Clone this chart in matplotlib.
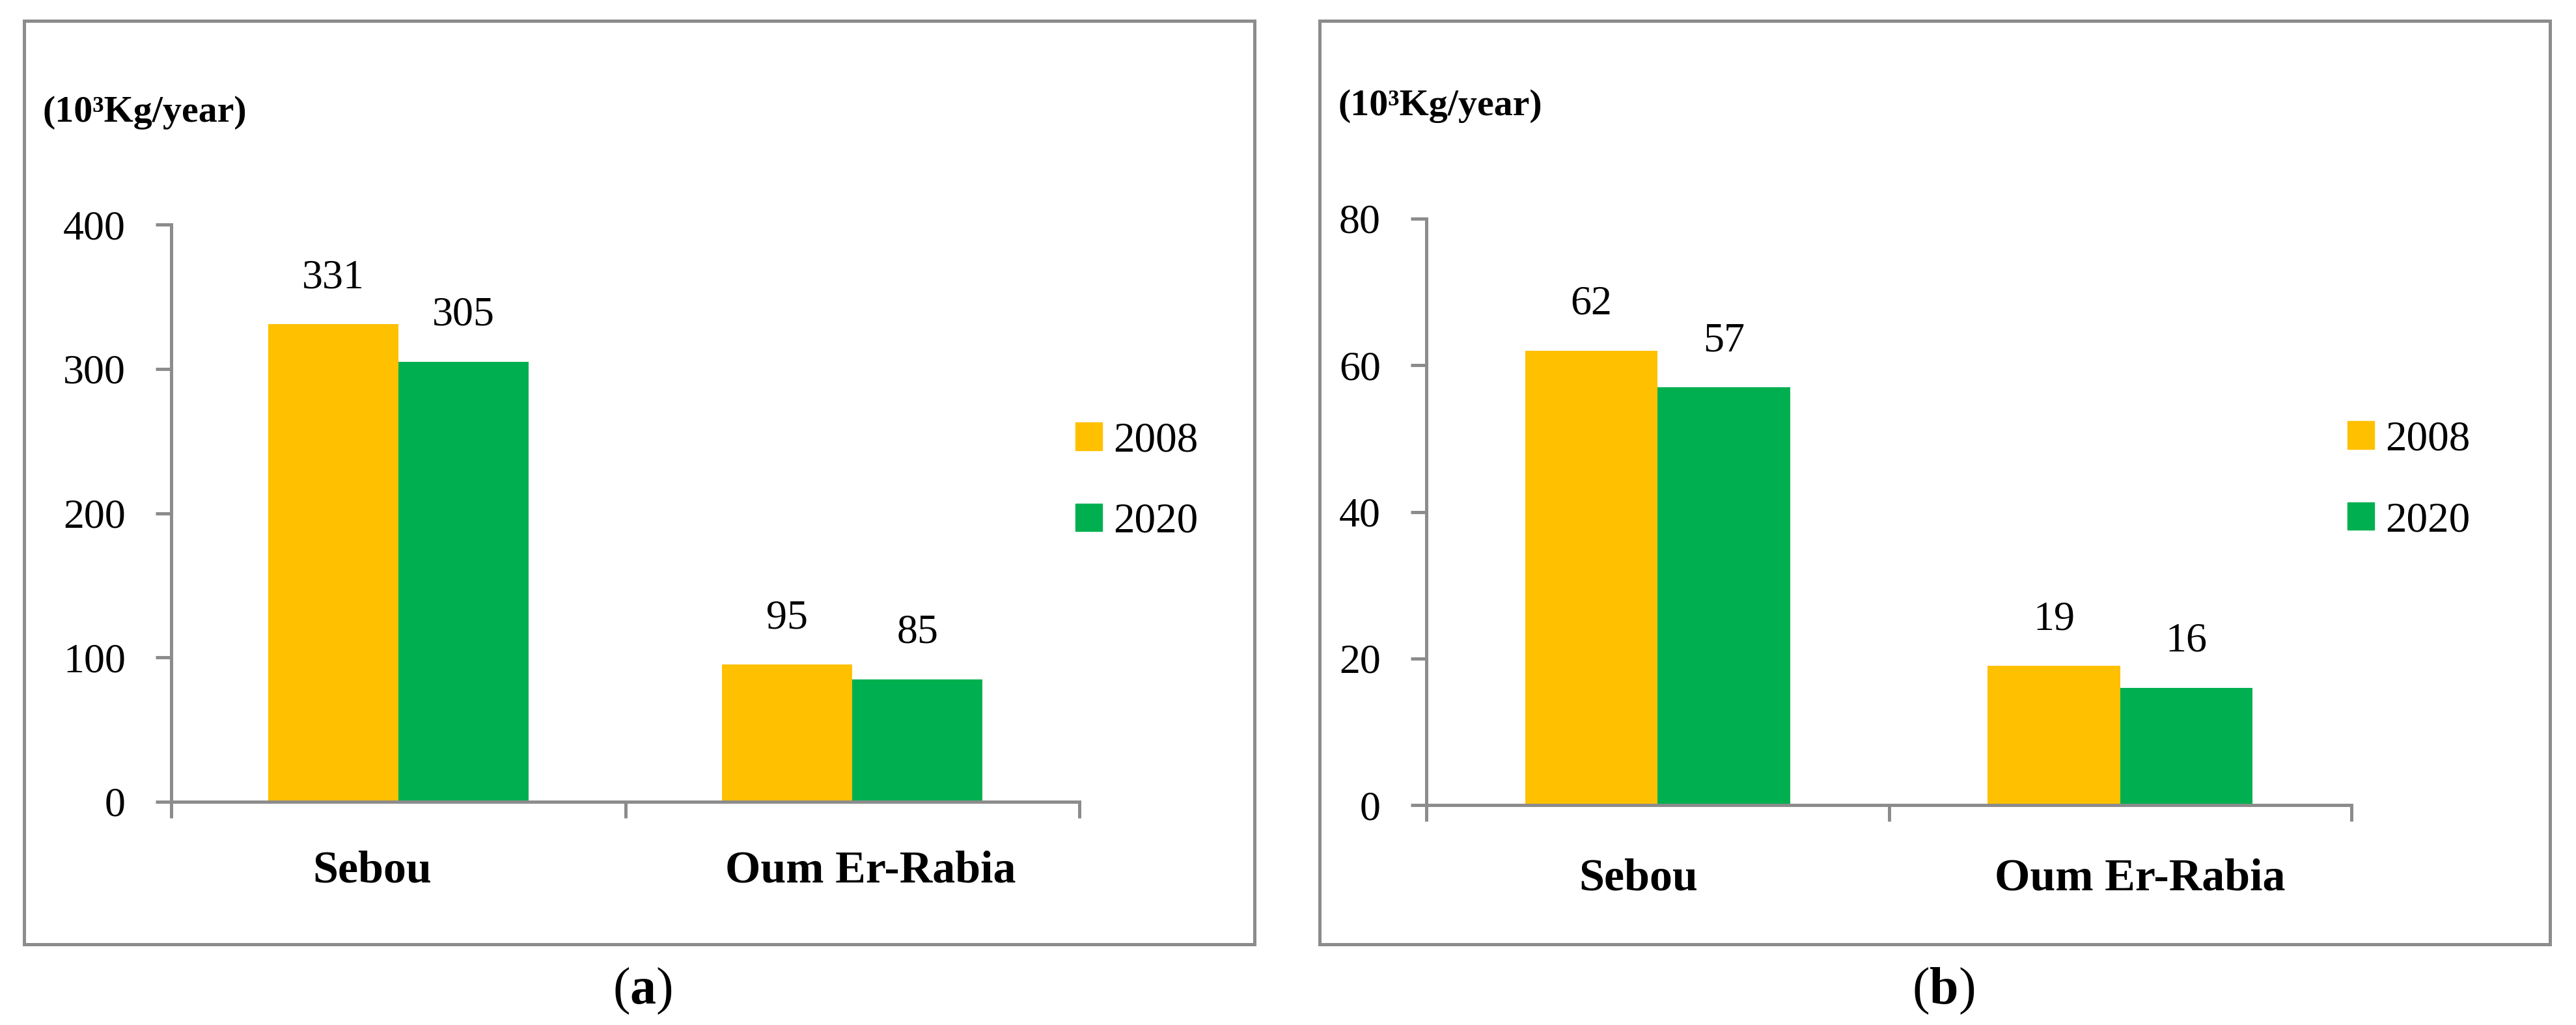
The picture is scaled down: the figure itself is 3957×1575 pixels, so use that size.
import matplotlib
matplotlib.use("Agg")
import matplotlib.pyplot as plt
import numpy as np
from matplotlib.patches import Rectangle, Patch
from matplotlib.ticker import FixedLocator

# ---------------- data ----------------
categories = ["Sebou", "Oum Er-Rabia"]
years = ["2008", "2020"]
a_2008 = [331, 95]
a_2020 = [305, 85]
b_2008 = [62, 19]
b_2020 = [57, 16]
a_ticks = [0, 100, 200, 300, 400]
b_ticks = [0, 20, 40, 60, 80]
unit_label = "(10³Kg/year)"
captions = ["a", "b"]

# ---------------- style ----------------
plt.rcParams['font.family'] = ['Liberation Serif', 'DejaVu Serif']
plt.rcParams['mathtext.fontset'] = 'custom'
plt.rcParams['mathtext.rm'] = 'Liberation Serif'
plt.rcParams['mathtext.bf'] = 'Liberation Serif:bold'

W, H = 3957, 1575
DPI = 100
GRAY = '#8C8C8C'
YELLOW = '#FFC000'
GREEN = '#00B050'


def pt(p):
    """pixels -> points"""
    return p * 72.0 / DPI


def fig_rect(x0, y0, x1, y1):
    return [x0 / W, 1 - y1 / H, (x1 - x0) / W, (y1 - y0) / H]


fig = plt.figure(figsize=(W / DPI, H / DPI), dpi=DPI)

panels = [
    dict(frame=(37, 32, 1927, 1451), axes=(263, 345, 1658, 1232),
         v1=a_2008, v2=a_2020, ticks=a_ticks, label_xy=(65, 173),
         legend_xy=(1652, 740), cap=captions[0], cap_x=987,
         cat_base=123, cat_dx=(-40, 28)),
    dict(frame=(2027, 32, 3917, 1451), axes=(2191, 336, 3612, 1237),
         v1=b_2008, v2=b_2020, ticks=b_ticks, label_xy=(2055, 163),
         legend_xy=(3606, 738), cap=captions[1], cap_x=2985,
         cat_base=131, cat_dx=(-30, 30)),
]

bar_w = 200 / 697.5
x = np.arange(len(categories))
val_fs = pt(64)
tick_fs = pt(64)
cat_fs = pt(70)
leg_fs = pt(65)

for p in panels:
    fx0, fy0, fx1, fy1 = p['frame']
    fig.add_artist(Rectangle((fx0 / W, 1 - fy1 / H), (fx1 - fx0) / W, (fy1 - fy0) / H,
                             transform=fig.transFigure, fill=False,
                             edgecolor=GRAY, linewidth=pt(5)))

    ax = fig.add_axes(fig_rect(*p['axes']))
    ax.set_xlim(-0.5, len(categories) - 0.5)
    ax.set_ylim(p['ticks'][0], p['ticks'][-1])

    b1 = ax.bar(x - bar_w / 2, p['v1'], bar_w, color=YELLOW, label=years[0])
    b2 = ax.bar(x + bar_w / 2, p['v2'], bar_w, color=GREEN, label=years[1])

    for bars, vals in ((b1, p['v1']), (b2, p['v2'])):
        for rect, v in zip(bars, vals):
            ax.annotate(str(v), (rect.get_x() + rect.get_width() / 2, v),
                        xytext=(0, pt(56)), textcoords='offset points',
                        ha='center', va='baseline', fontsize=val_fs, color='black')

    for s in ('top', 'right'):
        ax.spines[s].set_visible(False)
    for s in ('left', 'bottom'):
        ax.spines[s].set_color(GRAY)
        ax.spines[s].set_linewidth(pt(5))

    ax.set_yticks(p['ticks'])
    ax.set_yticklabels([str(t) for t in p['ticks']])
    ax.tick_params(axis='y', length=pt(24), width=pt(5), color=GRAY,
                   pad=pt(46), labelsize=tick_fs, labelcolor='black')

    # category boundary ticks (Excel style), labels drawn separately
    ax.set_xticks([])
    ax.xaxis.set_minor_locator(FixedLocator(np.arange(len(categories) + 1) - 0.5))
    ax.tick_params(axis='x', which='minor', length=pt(25), width=pt(5),
                   color=GRAY, direction='out')
    for i, (cat, dx) in enumerate(zip(categories, p['cat_dx'])):
        ax.annotate(cat, (x[i], 0), xycoords=('data', 'axes fraction'),
                    xytext=(pt(dx), -pt(p['cat_base'])), textcoords='offset points',
                    ha='center', va='baseline', fontsize=cat_fs,
                    fontweight='bold', color='black', annotation_clip=False)

    lx, ly = p['label_xy']
    fig.text(lx / W, 1 - ly / H, unit_label, ha='left', va='center',
             fontsize=pt(58), fontweight='bold')

    gx, gy = p['legend_xy']
    handles = [Patch(color=YELLOW), Patch(color=GREEN)]
    fig.legend(handles, years, loc='center left',
               bbox_to_anchor=(gx / W, 1 - gy / H), frameon=False,
               borderpad=0, borderaxespad=0, fontsize=leg_fs,
               handlelength=0.63, handleheight=0.63, handletextpad=0.26,
               labelspacing=1.0)

    fig.text(p['cap_x'] / W, 1 - 1523 / H, r"($\mathbf{%s}$)" % p['cap'],
             ha='center', va='center', fontsize=pt(80))

fig.savefig("out.png", dpi=DPI, facecolor='white')
